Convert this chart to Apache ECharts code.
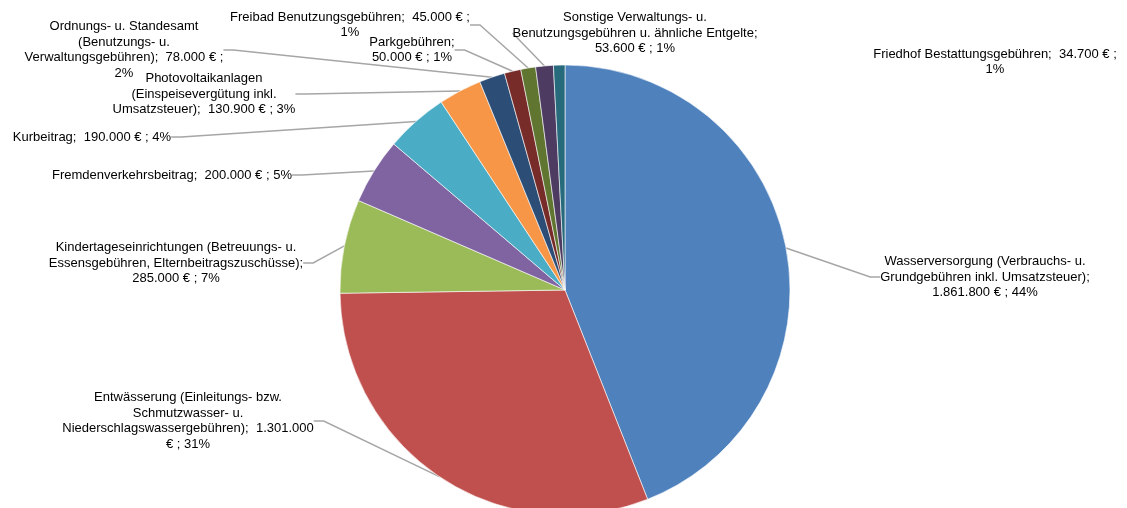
<!DOCTYPE html>
<html>
<head>
<meta charset="utf-8">
<script src="https://cdn.jsdelivr.net/npm/echarts@6/dist/echarts.min.js"></script>
<style>
  html, body { margin: 0; padding: 0; background: #fff; }
  #chart { width: 1127px; height: 508px; }
</style>
</head>
<body>
<div id="chart"></div>
<script>
// Kategorien (Zeilenumbrüche wie im Original)
const names = [
  "Wasserversorgung (Verbrauchs- u.\nGrundgebühren inkl. Umsatzsteuer)",
  "Entwässerung (Einleitungs- bzw.\nSchmutzwasser- u.\nNiederschlagswassergebühren)",
  "Kindertageseinrichtungen (Betreuungs- u.\nEssensgebühren, Elternbeitragszuschüsse)",
  "Fremdenverkehrsbeitrag",
  "Kurbeitrag",
  "Photovoltaikanlagen\n(Einspeisevergütung inkl.\nUmsatzsteuer)",
  "Ordnungs- u. Standesamt\n(Benutzungs- u.\nVerwaltungsgebühren)",
  "Parkgebühren",
  "Freibad Benutzungsgebühren",
  "Sonstige Verwaltungs- u.\nBenutzungsgebühren u. ähnliche Entgelte",
  "Friedhof Bestattungsgebühren"
];
// Werte in €
const values = [1861800, 1301000, 285000, 200000, 190000, 130900, 78000, 50000, 45000, 53600, 34700];
const colors = ["#4F81BD", "#C0504D", "#9BBB59", "#8064A2", "#4BACC6", "#F79646",
                "#2C4D75", "#772C2A", "#5F7530", "#4D3B62", "#276A7C"];

// Aufbau der Beschriftung: {b} Name, {v} Betrag, {p} Prozent
const labelFormats = [
  "{b};\n{v} € ; {p}%",
  "{b};  {v}\n€ ; {p}%",
  "{b};\n{v} € ; {p}%",
  "{b};  {v} € ; {p}%",
  "{b};  {v} € ; {p}%",
  "{b};  {v} € ; {p}%",
  "{b};  {v} € ;\n{p}%",
  "{b};\n{v} € ; {p}%",
  "{b};  {v} € ;\n{p}%",
  "{b};\n{v} € ; {p}%",
  "{b};  {v} € ;\n{p}%"
];

function fmtDE(n) {
  return String(n).replace(/\B(?=(\d{3})+(?!\d))/g, ".");
}

let myChart = echarts.init(document.getElementById("chart"));

// Mittelpunkte der Beschriftungen
const labelPos = [
  [985, 277], [188, 421], [176, 263], [172, 175], [92, 137], [204, 94],
  [124, 50], [412, 50], [350, 25], [635, 33], [995, 62]
];

const data = values.map(function (v, i) {
  let item = { name: names[i], value: v, itemStyle: { color: colors[i] } };
  if (i == 10) {
    item.labelLine = { show: false };
  }
  return item;
});

myChart.setOption({
  animation: false,
  textStyle: { fontFamily: "Liberation Sans, Arial, sans-serif" },
  series: [
    {
      type: "pie",
      center: [565, 290],
      radius: 225,
      startAngle: 90,
      clockwise: true,
      avoidLabelOverlap: false,
      data: data,
      itemStyle: { borderColor: "#fff", borderWidth: 0.6 },
      label: {
        show: true,
        position: "outside",
        color: "#000",
        fontSize: 13,
        lineHeight: 15.5,
        fontFamily: "Liberation Sans, Arial, sans-serif",
        formatter: function (params) {
          return labelFormats[params.dataIndex]
            .replace("{b}", params.name)
            .replace("{v}", fmtDE(params.value))
            .replace("{p}", Math.round(params.percent));
        }
      },
      labelLine: {
        show: true,
        length: 10,
        length2: 10,
        lineStyle: { color: "#a6a6a6", width: 1.5 }
      },
      labelLayout: function (params) {
        let p = labelPos[params.dataIndex];
        return { x: p[0], y: p[1], align: "center", verticalAlign: "middle" };
      }
    }
  ]
});
</script>
</body>
</html>
